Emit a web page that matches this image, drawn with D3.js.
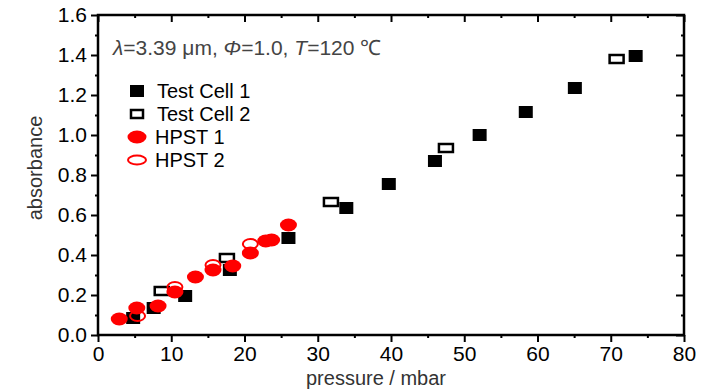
<!DOCTYPE html>
<html>
<head>
<meta charset="utf-8">
<script src="https://cdn.jsdelivr.net/npm/d3@7"></script>
<style>
  body { margin: 0; background: #fff; }
  text { font-family: "Liberation Sans", Arial, sans-serif; }
</style>
</head>
<body>
<div class="svg-container"></div>
<script>
var width = 728;
var height = 390;

var padding = { "top": 15, "right": 44, "bottom": 55, "left": 98 };

// data: [pressure mbar, absorbance]
var testCell1 = [[4.8, 0.085], [7.6, 0.135], [11.9, 0.195], [18.0, 0.325], [26.0, 0.485],
                 [33.9, 0.635], [39.7, 0.755], [46.0, 0.87], [52.1, 1.0], [58.4, 1.115],
                 [65.1, 1.235], [73.4, 1.395]];
var testCell2 = [[8.7, 0.22], [17.6, 0.385], [31.8, 0.665], [47.5, 0.935], [70.8, 1.38]];
var hpst1 = [[2.9, 0.08], [5.3, 0.135], [8.2, 0.145], [10.5, 0.215], [13.3, 0.29],
             [15.7, 0.325], [18.4, 0.345], [20.8, 0.41], [22.9, 0.47], [23.7, 0.475], [26.0, 0.55]];
var hpst2 = [[5.4, 0.095], [10.5, 0.24], [15.7, 0.35], [20.8, 0.455]];

var xMajor = [0, 10, 20, 30, 40, 50, 60, 70, 80];
var xMinor = [5, 15, 25, 35, 45, 55, 65, 75];
var yMajor = [0, 0.2, 0.4, 0.6, 0.8, 1.0, 1.2, 1.4, 1.6];
var yMinor = [0.1, 0.3, 0.5, 0.7, 0.9, 1.1, 1.3, 1.5];

var legendNames = ["Test Cell 1", "Test Cell 2", "HPST 1", "HPST 2"];

var plotW = width - padding.left - padding.right;
var plotH = height - padding.top - padding.bottom;

var svg = d3.select(".svg-container")
              .append("svg")
              .attr("width", width)
              .attr("height", height)
              .append("g")
              .attr("transform", "translate(" + padding.left + "," + padding.top + ")");

var scaleX = d3.scaleLinear().domain([0, 80]).range([0, plotW]);
var scaleY = d3.scaleLinear().domain([0, 1.6]).range([plotH, 0]);

// axes: outward ticks left/bottom, inward ticks top/right
function drawAxis(axisFn, scale, values, size, labels, transform) {
    var ax = axisFn(scale).tickValues(values).tickSize(size).tickPadding(4);
    if (!labels) ax.tickFormat("");
    else if (scale === scaleY) ax.tickFormat(d3.format(".1f"));
    else ax.tickFormat(d3.format("d"));
    var g = svg.append("g")
        .attr("transform", transform)
        .call(ax);
    g.select(".domain").remove();
    g.selectAll(".tick line").attr("stroke", "#000").attr("stroke-width", 2);
    g.selectAll(".tick text").attr("fill", "#000").style("font-size", "21px");
    return g;
}

drawAxis(d3.axisBottom, scaleX, xMajor, 7, true, "translate(0," + plotH + ")");
drawAxis(d3.axisBottom, scaleX, xMinor, 3, false, "translate(0," + plotH + ")");
drawAxis(d3.axisLeft, scaleY, yMajor, 7, true, "translate(0,0)");
drawAxis(d3.axisLeft, scaleY, yMinor, 3, false, "translate(0,0)");
drawAxis(d3.axisBottom, scaleX, xMajor, 7, false, "translate(0,0)");
drawAxis(d3.axisBottom, scaleX, xMinor, 3, false, "translate(0,0)");
drawAxis(d3.axisLeft, scaleY, yMajor, 8, false, "translate(" + plotW + ",0)");
drawAxis(d3.axisLeft, scaleY, yMinor, 3, false, "translate(" + plotW + ",0)");

// frame
svg.append("rect")
    .attr("x", 0).attr("y", 0)
    .attr("width", plotW).attr("height", plotH)
    .attr("fill", "none")
    .attr("stroke", "#000")
    .attr("stroke-width", 2.5);

// markers
function drawSquares(dataset, open) {
    svg.append("g").selectAll("rect")
        .data(dataset)
        .enter()
        .append("rect")
        .attr("x", function(d) { return scaleX(d[0]) - (open ? 7 : 7); })
        .attr("y", function(d) { return scaleY(d[1]) - (open ? 4 : 6); })
        .attr("width", 14)
        .attr("height", open ? 8 : 12)
        .attr("fill", open ? "#fff" : "#000")
        .attr("stroke", "#000")
        .attr("stroke-width", open ? 2.5 : 0);
}

function drawEllipses(dataset, open) {
    svg.append("g").selectAll("ellipse")
        .data(dataset)
        .enter()
        .append("ellipse")
        .attr("cx", function(d) { return scaleX(d[0]); })
        .attr("cy", function(d) { return scaleY(d[1]); })
        .attr("rx", open ? 7.5 : 8.5)
        .attr("ry", open ? 5 : 6.5)
        .attr("fill", open ? "none" : "#f00")
        .attr("stroke", "#f00")
        .attr("stroke-width", open ? 2 : 0);
}

drawSquares(testCell1, false);
drawSquares(testCell2, true);
drawEllipses(hpst1, false);
drawEllipses(hpst2, true);

// legend
var legend = svg.append("g").attr("transform", "translate(39,76)");
var rowH = 23;
legendNames.forEach(function(name, i) {
    var y = i * rowH;
    if (i === 0) {
        legend.append("rect").attr("x", -7).attr("y", y - 6).attr("width", 14).attr("height", 12).attr("fill", "#000");
    } else if (i === 1) {
        legend.append("rect").attr("x", -6).attr("y", y - 4).attr("width", 12).attr("height", 8)
            .attr("fill", "#fff").attr("stroke", "#000").attr("stroke-width", 2.5);
    } else if (i === 2) {
        legend.append("ellipse").attr("cx", 0).attr("cy", y).attr("rx", 9.5).attr("ry", 6.5).attr("fill", "#f00");
    } else {
        legend.append("ellipse").attr("cx", 0).attr("cy", y).attr("rx", 9).attr("ry", 4.5)
            .attr("fill", "none").attr("stroke", "#f00").attr("stroke-width", 2);
    }
    legend.append("text")
        .attr("x", i < 2 ? 20 : 18)
        .attr("y", y + 7)
        .style("font-size", "20px")
        .attr("fill", "#000")
        .text(name);
});

// condition text
var title = svg.append("text")
    .attr("x", 15)
    .attr("y", 40)
    .attr("fill", "#444")
    .style("font-size", "21px");
title.append("tspan").style("font-style", "italic").text("\u03bb");
title.append("tspan").text("=3.39 \u03bcm, ");
title.append("tspan").style("font-style", "italic").text("\u03a6");
title.append("tspan").text("=1.0, ");
title.append("tspan").style("font-style", "italic").text("T");
title.append("tspan").text("=120 \u2103");

// axis labels
svg.append("text")
    .attr("x", plotW / 2 - 15)
    .attr("y", plotH + 50)
    .attr("text-anchor", "middle")
    .attr("fill", "#333")
    .style("font-size", "20px")
    .text("pressure / mbar");

svg.append("text")
    .attr("transform", "rotate(270)")
    .attr("x", -(168 - padding.top))
    .attr("y", -56)
    .attr("text-anchor", "middle")
    .attr("fill", "#333")
    .style("font-size", "20px")
    .text("absorbance");
</script>
</body>
</html>
